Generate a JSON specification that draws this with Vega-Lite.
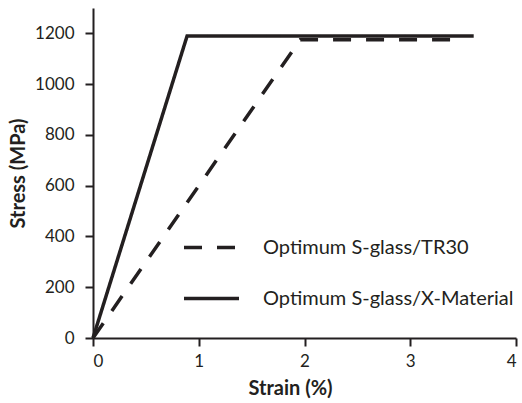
{
  "$schema": "https://vega.github.io/schema/vega-lite/v6.json",
  "width": 423,
  "height": 330,
  "autosize": {"type": "none"},
  "padding": {"left": 93, "top": 8, "right": 6, "bottom": 65},
  "background": "white",
  "config": {
    "view": {"stroke": null},
    "font": "Lato",
    "axis": {"grid": false, "domainColor": "#231f20", "tickColor": "#231f20", "domainWidth": 2, "tickWidth": 2, "labelColor": "#231f20", "titleColor": "#231f20", "labelFont": "Lato", "titleFont": "Lato", "labelFontSize": 17, "titleFontSize": 20, "titleFontWeight": "bold", "tickSize": 8}
  },
  "data": {
    "values": [
      {"series": "Optimum S-glass/TR30", "order": 0, "strain": 0, "stress": 0},
      {"series": "Optimum S-glass/TR30", "order": 1, "strain": 1.96, "stress": 1175},
      {"series": "Optimum S-glass/TR30", "order": 2, "strain": 3.45, "stress": 1175},
      {"series": "Optimum S-glass/X-Material", "order": 0, "strain": 0, "stress": 0},
      {"series": "Optimum S-glass/X-Material", "order": 1, "strain": 0.89, "stress": 1190},
      {"series": "Optimum S-glass/X-Material", "order": 2, "strain": 3.6, "stress": 1190}
    ]
  },
  "mark": {"type": "line", "color": "#231f20", "strokeWidth": 3.5, "clip": false},
  "encoding": {
    "x": {"field": "strain", "type": "quantitative", "scale": {"domain": [0, 4], "nice": false}, "axis": {"title": "Strain (%)", "values": [0, 1, 2, 3, 4], "format": "d", "labelPadding": 7, "titlePadding": 9, "titleX": 197}},
    "y": {"field": "stress", "type": "quantitative", "scale": {"domain": [0, 1300], "nice": false}, "axis": {"title": "Stress (MPa)", "values": [0, 200, 400, 600, 800, 1000, 1200], "format": "d", "labelPadding": 11, "titlePadding": 6}},
    "order": {"field": "order"},
    "strokeDash": {
      "field": "series", "type": "nominal",
      "scale": {"domain": ["Optimum S-glass/TR30", "Optimum S-glass/X-Material"], "range": [[18, 15], [1, 0]]},
      "legend": {"title": null, "orient": "none", "legendX": 89, "legendY": 210, "symbolType": "stroke", "symbolSize": 3025, "symbolStrokeWidth": 3.5, "symbolStrokeColor": "#231f20", "labelFontSize": 20, "labelColor": "#231f20", "labelOffset": 22, "rowPadding": 11, "labelLimit": 0, "labelFont": "Lato"}
    }
  }
}
